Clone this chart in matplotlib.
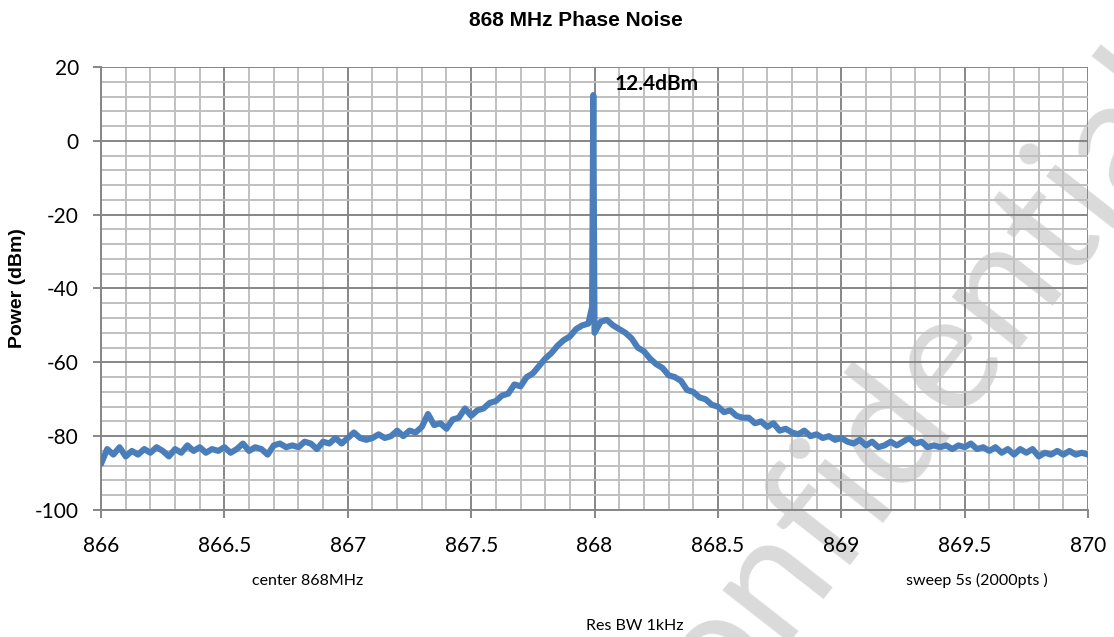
import numpy as np
import matplotlib.pyplot as plt
from matplotlib.ticker import MultipleLocator, FuncFormatter

# spectrum trace (MHz, dBm)
freq = [
    866.000, 866.025, 866.050, 866.075, 866.100, 866.125, 866.150, 866.175, 866.200, 866.225,
    866.250, 866.275, 866.300, 866.325, 866.350, 866.375, 866.400, 866.425, 866.450, 866.475,
    866.500, 866.525, 866.550, 866.575, 866.600, 866.625, 866.650, 866.675, 866.700, 866.725,
    866.750, 866.775, 866.800, 866.825, 866.850, 866.875, 866.900, 866.925, 866.950, 866.975,
    867.000, 867.025, 867.050, 867.075, 867.100, 867.125, 867.150, 867.175, 867.200, 867.225,
    867.250, 867.275, 867.300, 867.325, 867.350, 867.375, 867.400, 867.425, 867.450, 867.475,
    867.500, 867.525, 867.550, 867.575, 867.600, 867.625, 867.650, 867.675, 867.700, 867.725,
    867.750, 867.775, 867.800, 867.825, 867.850, 867.875, 867.900, 867.925, 867.950, 867.975,
    867.990, 867.995, 868.000, 868.025, 868.050, 868.075, 868.100, 868.125, 868.150, 868.175,
    868.200, 868.225, 868.250, 868.275, 868.300, 868.325, 868.350, 868.375, 868.400, 868.425,
    868.450, 868.475, 868.500, 868.525, 868.550, 868.575, 868.600, 868.625, 868.650, 868.675,
    868.700, 868.725, 868.750, 868.775, 868.800, 868.825, 868.850, 868.875, 868.900, 868.925,
    868.950, 868.975, 869.000, 869.025, 869.050, 869.075, 869.100, 869.125, 869.150, 869.175,
    869.200, 869.225, 869.250, 869.275, 869.300, 869.325, 869.350, 869.375, 869.400, 869.425,
    869.450, 869.475, 869.500, 869.525, 869.550, 869.575, 869.600, 869.625, 869.650, 869.675,
    869.700, 869.725, 869.750, 869.775, 869.800, 869.825, 869.850, 869.875, 869.900, 869.925,
    869.950, 869.975, 870.000,
]
power = [
    -87.5, -83.5, -85.0, -83.0, -85.5, -84.0, -85.0, -83.5, -84.5, -83.0,
    -84.0, -85.5, -83.5, -84.5, -82.5, -84.0, -83.0, -84.5, -83.5, -84.0,
    -83.0, -84.5, -83.5, -82.0, -84.0, -83.0, -83.5, -85.0, -82.5, -82.0,
    -83.0, -82.5, -83.0, -81.5, -82.0, -83.5, -81.5, -82.0, -80.5, -82.0,
    -80.5, -79.0, -80.5, -81.0, -80.5, -79.5, -80.5, -80.0, -78.5, -80.0,
    -78.5, -79.0, -77.5, -74.0, -77.0, -76.5, -78.0, -75.5, -75.0, -72.5,
    -74.5, -73.0, -72.5, -71.0, -70.5, -69.0, -68.5, -66.0, -66.5, -64.0,
    -63.0, -61.0, -59.0, -57.5, -55.5, -54.0, -53.0, -51.0, -50.0, -49.5,
    -45.0, 12.4, -52.0, -49.0, -48.5, -50.0, -51.0, -52.0, -53.5, -56.0,
    -57.0, -59.0, -60.5, -61.5, -63.5, -64.0, -65.0, -67.5, -68.0, -69.5,
    -70.0, -71.5, -72.0, -73.5, -73.0, -74.5, -75.0, -75.0, -76.5, -76.0,
    -77.5, -76.5, -78.5, -78.0, -79.0, -79.5, -78.5, -80.0, -79.5, -80.5,
    -80.0, -81.0, -80.5, -81.5, -82.0, -81.0, -82.5, -81.5, -83.0, -82.5,
    -81.5, -82.5, -81.5, -80.5, -82.0, -81.5, -83.0, -82.5, -83.0, -82.5,
    -83.5, -82.5, -83.0, -82.0, -83.5, -83.0, -84.0, -83.0, -84.5, -83.5,
    -85.0, -83.5, -84.5, -83.5, -85.5, -84.5, -85.0, -84.0, -85.0, -84.0,
    -85.0, -84.5, -85.0,
]

plt.rcParams['axes.unicode_minus'] = False

fig = plt.figure(figsize=(11.14, 6.37), dpi=100)
ax = fig.add_axes([0.0907, 0.1994, 0.886, 0.6954])
ax.patch.set_alpha(0)

ax.plot(freq, power, color='#4a7ebb', lw=4.4, solid_joinstyle='round',
        solid_capstyle='round', zorder=3)

ax.set_xlim(866, 870)
ax.set_ylim(-100, 20)
ax.xaxis.set_major_locator(MultipleLocator(0.5))
ax.xaxis.set_minor_locator(MultipleLocator(0.1))
ax.yaxis.set_major_locator(MultipleLocator(20))
ax.yaxis.set_minor_locator(MultipleLocator(4))
ax.xaxis.set_major_formatter(FuncFormatter(lambda v, p: '%g' % v))

ax.grid(which='minor', color='#c0c0c0', lw=1.4)
ax.grid(which='major', color='#868686', lw=1.4)
ax.set_axisbelow(True)
ax.tick_params(which='minor', length=0)
ax.tick_params(which='major', length=6, width=1.4, color='#868686',
               labelsize=15)
ax.tick_params(axis='x', pad=13)
ax.tick_params(axis='y', pad=10)
for lab in ax.get_xticklabels() + ax.get_yticklabels():
    lab.set_family('Lato')
for side in ['left', 'bottom']:
    ax.spines[side].set_color('#868686')
    ax.spines[side].set_linewidth(1.4)
for side in ['top', 'right']:
    ax.spines[side].set_visible(False)

ax.set_ylabel('Power (dBm)', fontsize=14, fontweight='bold',
              family='Liberation Sans', labelpad=6)
fig.text(0.517, 0.968, '868 MHz Phase Noise', ha='center', va='center',
         fontsize=15, fontweight='bold', family='Liberation Sans')

ax.text(868.08, 15.5, '12.4dBm', fontsize=15, fontweight='bold',
        family='Lato', va='center', ha='left')

fig.text(0.276, 0.088, 'center 868MHz', ha='center', va='center',
         fontsize=11.5, family='Lato')
fig.text(0.877, 0.088, 'sweep 5s (2000pts )', ha='center', va='center',
         fontsize=11.5, family='Lato')
fig.text(0.570, 0.018, 'Res BW 1kHz', ha='center', va='center',
         fontsize=11.5, family='Lato')

# watermark, behind the (transparent) axes
fig.text(0.80, 0.33, 'Confidential', rotation=52, fontsize=120,
         family='Lato', color='#dadada', ha='center', va='center', zorder=-1)

fig.savefig('out.png', dpi=100)
